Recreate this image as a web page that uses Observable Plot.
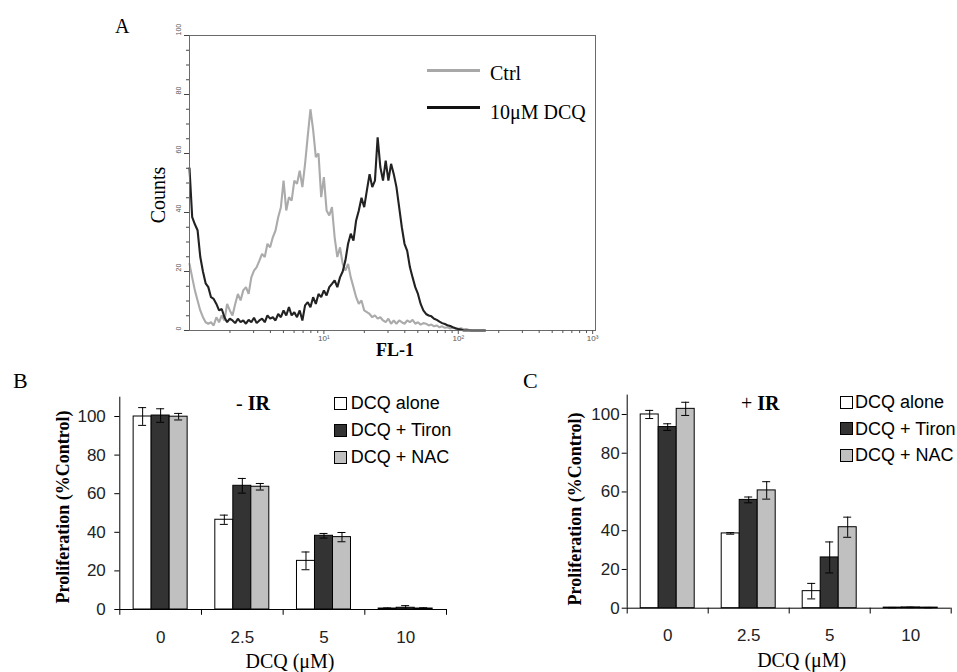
<!DOCTYPE html>
<html><head><meta charset="utf-8">
<script src="https://cdn.jsdelivr.net/npm/d3@7"></script>
<script src="https://cdn.jsdelivr.net/npm/@observablehq/plot@0.6"></script>
<style>
body{margin:0;background:#fff;}
#fig{position:relative;width:957px;height:672px;background:#fff;overflow:hidden;}
#fig svg{position:absolute;}
.t{position:absolute;white-space:nowrap;line-height:1;color:#000;}
.serif{font-family:"Liberation Serif","Times New Roman",serif;}
.sans{font-family:"Liberation Sans",Arial,sans-serif;}
.sq{position:absolute;width:11px;height:11px;border:1px solid #000;}
.ln{position:absolute;height:3px;}
</style></head><body><div id="fig"></div>
<script>
// ---------- Panel A: flow histogram (FL-1 in log decades) ----------
const flLog = [
0.00,0.02,0.04,0.06,0.08,0.10,0.12,0.14,0.16,0.18,
0.20,0.22,0.24,0.26,0.28,0.30,0.32,0.34,0.36,0.38,
0.40,0.42,0.44,0.46,0.48,0.50,0.52,0.54,0.56,0.58,
0.60,0.62,0.64,0.66,0.68,0.70,0.72,0.74,0.76,0.78,
0.80,0.82,0.84,0.86,0.88,0.90,0.92,0.94,0.96,0.98,
1.00,1.02,1.04,1.06,1.08,1.10,1.12,1.14,1.16,1.18,
1.20,1.22,1.24,1.26,1.28,1.30,1.32,1.34,1.36,1.38,
1.40,1.42,1.44,1.46,1.48,1.50,1.52,1.54,1.56,1.58,
1.60,1.62,1.64,1.66,1.68,1.70,1.72,1.74,1.76,1.78,
1.80,1.82,1.84,1.86,1.88,1.90,1.92,1.94,1.96,1.98,
2.00,2.02,2.04,2.06,2.08,2.10,2.12,2.14,2.16,2.18,
2.20];
const ctrlCounts = [
22.6,18,13.6,10.2,6.8,4.5,2.8,2.3,2.8,1.7,
4.5,2.8,5.1,3.4,9,6.8,5.1,9,12.4,10.2,
13.6,14.7,12.4,18,20.3,21.5,23.7,26,24.9,29.4,
28.2,31.6,33.9,38.4,41.8,50.8,40.7,45.2,44,50.8,
49.7,54.2,48.6,56.5,66,75,68,58.8,60,45.2,
52,40.7,39,41.8,31.6,24.9,28.2,22.6,20.3,22.6,
18,14.7,11.3,9,10.2,6.8,6.2,5.6,4.5,5.1,
4,4.5,3.4,2.8,4,2.3,3.4,2.3,3.4,2.8,
2.3,3.4,2.8,3.6,2.3,2.8,2,2.5,2.3,1.7,
2,1.4,1.7,1.1,1.4,0.9,1.1,0.7,0.9,0.6,
0.5,0.8,0.4,0.5,0.2,0,0,0,0,0,
0];
const dcqCounts = [
55,38.4,36,34,25,20,16,14.7,11.3,10.7,
9,6.8,7.3,4.5,2.8,4,3.4,2.5,4,2.8,
3.4,2.3,3.6,2.8,4.3,2.5,3.4,4,2.8,5.1,
4,4.5,3.4,5.6,4.5,6.8,5.1,7.9,5.1,6.2,
4.5,6.8,3.4,8.5,9.6,7.9,11.3,9,12.4,11.3,
13.6,11.9,14.7,15.8,17,14.7,18,20,23.7,29.4,
32.8,30.5,37.3,40.7,45,41.8,47.5,53,48.6,50.8,
65.5,55.4,50.8,57.6,50.8,56.5,53,48.6,41.8,35,
29.4,27,21.5,18,14.7,12.4,9,6.8,5.6,5.1,
4.8,4,3.6,3,2.5,2.2,1.8,1.5,1.1,0.8,
0.5,0.3,0,0,0,0,0,0,0,0,
0];
const flMajorTicks = [10, 100, 1000];
const flMajorLabels = ["10\u00B9", "10\u00B2", "10\u00B3"];
const flMinorTicks = [2,3,4,5,6,7,8,9,20,30,40,50,60,70,80,90,200,300,400,500,600,700,800,900];
const countMajor = [0,20,40,60,80,100];
const countMinor = [5,10,15,25,30,35,45,50,55,65,70,75,85,90,95];

// ---------- Panels B and C: proliferation bars ----------
const doses = ["0", "2.5", "5", "10"];
const seriesNames = ["DCQ alone", "DCQ + Tiron", "DCQ + NAC"];
const yTicksBar = [0, 20, 40, 60, 80, 100];
// B: - IR
const bAlone = [100, 46.5, 25.2, 0.5];
const bAloneErr = [4.6, 2.4, 4.6, 0.3];
const bTiron = [100.5, 64.1, 38.2, 0.9];
const bTironErr = [3.5, 3.8, 1.2, 1.1];
const bNac = [99.9, 63.6, 37.5, 0.5];
const bNacErr = [1.7, 1.7, 2.4, 0.4];
// C: + IR
const cAlone = [100, 38.6, 8.8, 0.3];
const cAloneErr = [2.1, 0.4, 4.0, 0.1];
const cTiron = [93.5, 55.9, 26.2, 0.4];
const cTironErr = [1.7, 1.5, 8.0, 0.1];
const cNac = [102.9, 60.8, 41.8, 0.3];
const cNacErr = [3.4, 4.5, 5.2, 0.1];

const fig = document.getElementById("fig");

// ----- Panel A plot -----
const plotA = Plot.plot({
  width: 620, height: 365,
  marginLeft: 189, marginRight: 25, marginTop: 35, marginBottom: 35,
  x: {type: "log", domain: [1, 1050]},
  y: {domain: [0, 100]},
  style: {background: "transparent", overflow: "visible", fontFamily: '"Liberation Sans", Arial, sans-serif', color: "#555"},
  marks: [
    Plot.line(flLog, {x: d => 10 ** d, y: (d, i) => ctrlCounts[i], stroke: "#ababab", strokeWidth: 2.1, strokeLinejoin: "miter"}),
    Plot.line(flLog, {x: d => 10 ** d, y: (d, i) => dcqCounts[i], stroke: "#222222", strokeWidth: 2.1, strokeLinejoin: "miter"}),
    Plot.frame({stroke: "#6a6a6a", strokeWidth: 1}),
    Plot.axisX({ticks: flMajorTicks, tickSize: 4, tickPadding: 1, fontSize: 8,
      tickFormat: d => flMajorLabels[flMajorTicks.indexOf(d)], label: null, stroke: "#555"}),
    Plot.axisX({ticks: flMinorTicks, tickSize: 3, text: null, label: null, stroke: "#555"}),
    Plot.axisY({ticks: countMajor, tickSize: 5, text: null, label: null, stroke: "#444"}),
    Plot.axisY({ticks: countMinor, tickSize: 3, text: null, label: null, stroke: "#444"}),
    Plot.text(countMajor, {y: d => d, frameAnchor: "left", dx: -11, rotate: -90,
      text: d => String(d), fontSize: 7, fill: "#555"})
  ]
});
plotA.style.left = "0px"; plotA.style.top = "0px";
fig.appendChild(plotA);

// ----- bar plot factory -----
function barPlot(cfg) {
  const bw = (cfg.width - cfg.marginLeft - cfg.marginRight) / doses.length;
  const series = [
    {v: cfg.alone, e: cfg.aloneErr, fill: "#ffffff", off: -18},
    {v: cfg.tiron, e: cfg.tironErr, fill: "#333333", off: 0},
    {v: cfg.nac, e: cfg.nacErr, fill: "#c0c0c0", off: 18}
  ];
  const marks = [];
  for (const s of series) {
    marks.push(Plot.barY(doses, {x: d => d, y: (d, i) => s.v[i], fill: s.fill, stroke: "#000", strokeWidth: 1,
      insetLeft: bw / 2 + s.off - 9, insetRight: bw / 2 - s.off - 9}));
  }
  for (const s of series) {
    marks.push(Plot.ruleX(doses, {x: d => d, y1: (d, i) => s.v[i] - s.e[i], y2: (d, i) => s.v[i] + s.e[i],
      dx: s.off, stroke: "#000", strokeWidth: 1}));
    marks.push(Plot.tickY(doses, {x: d => d, y: (d, i) => s.v[i] + s.e[i], stroke: "#000", strokeWidth: 1,
      insetLeft: bw / 2 + s.off - 4, insetRight: bw / 2 - s.off - 4}));
    marks.push(Plot.tickY(doses, {x: d => d, y: (d, i) => Math.max(0, s.v[i] - s.e[i]), stroke: "#000", strokeWidth: 1,
      insetLeft: bw / 2 + s.off - 4, insetRight: bw / 2 - s.off - 4}));
  }
  const yMax = 110;
  marks.push(
    Plot.ruleY([0], {stroke: "#000", strokeWidth: 1}),
    Plot.ruleX([doses[0]], {x: d => d, dx: -bw / 2, y1: 0, y2: yMax, stroke: "#000", strokeWidth: 1}),
    Plot.ruleX(doses, {x: d => d, dx: -bw / 2, y1: -3, y2: 0, stroke: "#000", strokeWidth: 1}),
    Plot.ruleX([doses[doses.length - 1]], {x: d => d, dx: bw / 2, y1: -3, y2: 0, stroke: "#000", strokeWidth: 1}),
    Plot.axisY({ticks: yTicksBar, tickSize: 5, tickPadding: cfg.yPad, fontSize: 17, label: null, stroke: "#000", fill: "#222"}),
    Plot.axisX({tickSize: 0, tickPadding: cfg.xPad, fontSize: 17, label: null, fill: "#222"})
  );
  const p = Plot.plot({
    width: cfg.width, height: cfg.height,
    marginLeft: cfg.marginLeft, marginRight: cfg.marginRight, marginTop: cfg.marginTop, marginBottom: cfg.marginBottom,
    x: {domain: doses, padding: 0, round: false},
    y: {domain: [0, yMax]},
    style: {background: "transparent", overflow: "visible", fontFamily: '"Liberation Sans", Arial, sans-serif', color: "#000"},
    marks
  });
  p.style.left = cfg.left + "px"; p.style.top = cfg.top + "px";
  fig.appendChild(p);
}

barPlot({left: 0, top: 370, width: 480, height: 300, marginLeft: 119.3, marginRight: 34, marginTop: 26.7, marginBottom: 61,
  alone: bAlone, aloneErr: bAloneErr, tiron: bTiron, tironErr: bTironErr, nac: bNac, nacErr: bNacErr, yPad: 9, xPad: 21});
barPlot({left: 480, top: 370, width: 477, height: 300, marginLeft: 146.7, marginRight: 6.3, marginTop: 24.6, marginBottom: 62.3,
  alone: cAlone, aloneErr: cAloneErr, tiron: cTiron, tironErr: cTironErr, nac: cNac, nacErr: cNacErr, yPad: 2.5, xPad: 20.5});

// ---------- text overlays ----------
function txt(html, x, baseline, size, cls, opts = {}) {
  const d = document.createElement("div");
  d.className = "t " + cls;
  d.innerHTML = html;
  const k = cls === "sans" ? 0.8465 : 0.8375;
  d.style.fontSize = size + "px";
  d.style.left = x + "px";
  d.style.top = (baseline - k * size) + "px";
  if (opts.bold) d.style.fontWeight = "bold";
  if (opts.anchor === "middle") d.style.transform = "translateX(-50%)";
  fig.appendChild(d);
  return d;
}
function vtxt(html, cx, cy, size, cls, opts = {}) {
  const d = document.createElement("div");
  d.className = "t " + cls;
  d.innerHTML = html;
  d.style.fontSize = size + "px";
  d.style.left = cx + "px";
  d.style.top = cy + "px";
  if (opts.bold) d.style.fontWeight = "bold";
  d.style.transform = "translate(-50%,-50%) rotate(-90deg)";
  fig.appendChild(d);
}
function box(cls, x, y, w, h, color) {
  const d = document.createElement("div");
  d.className = cls;
  d.style.left = x + "px"; d.style.top = y + "px";
  if (w) d.style.width = w + "px";
  if (h) d.style.height = h + "px";
  d.style.background = color;
  fig.appendChild(d);
}

// Panel A texts
txt("A", 115, 33, 20, "serif");
vtxt("Counts", 157.5, 195, 20, "serif");
txt("FL-1", 395, 356, 18, "serif", {bold: true, anchor: "middle"});
box("ln", 427, 68.5, 53, 3, "#a8a8a8");
box("ln", 427, 105.8, 53, 3, "#111");
txt("Ctrl", 490, 80, 20, "serif");
txt("10\u03BCM DCQ", 490, 118.3, 20, "serif");

// Panel B texts
txt("B", 13, 388, 22, "serif");
txt("- <b>IR</b>", 236, 409.3, 20, "serif");
vtxt("Proliferation (%Control)", 62.5, 507, 18, "serif", {bold: true});
txt("DCQ (\u03BCM)", 290, 668, 20, "serif", {anchor: "middle"});
const legFills = ["#ffffff", "#333333", "#c0c0c0"];
const legB = [403, 430, 457];
seriesNames.forEach((n, i) => {
  box("sq", 334.3, legB[i] - 6, 0, 0, legFills[i]);
  txt(n, 350.7, legB[i] + 6.5, 18, "sans");
});

// Panel C texts
txt("C", 523, 388, 22, "serif");
txt("+ <b>IR</b>", 741, 409.3, 20, "serif");
vtxt("Proliferation (%Control)", 574.5, 509, 18, "serif", {bold: true});
txt("DCQ (\u03BCM)", 801.7, 667, 20, "serif", {anchor: "middle"});
const legC = [401.7, 428.3, 455];
seriesNames.forEach((n, i) => {
  box("sq", 839.5, legC[i] - 6, 0, 0, legFills[i]);
  txt(n, 855, legC[i] + 6.5, 18, "sans");
});
</script></body></html>
